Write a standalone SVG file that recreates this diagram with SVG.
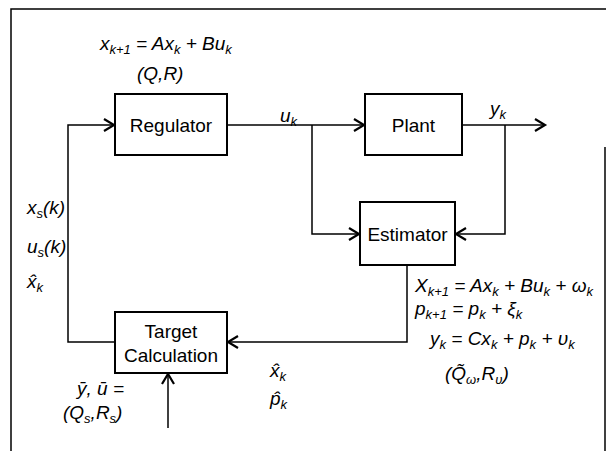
<svg xmlns="http://www.w3.org/2000/svg" width="606" height="451" viewBox="0 0 606 451">
<style>
.box{fill:#fff;stroke:#000;stroke-width:2}
.ln{fill:none;stroke:#000;stroke-width:1.5}
.lbl{font-family:"Liberation Sans",Arial,sans-serif;font-size:19px;fill:#000}
.m{font-family:"Liberation Sans",Arial,sans-serif;font-style:italic;font-size:19px;fill:#000}
.s{font-size:13px}
</style>
<defs>
<marker id="arr" markerUnits="userSpaceOnUse" markerWidth="14" markerHeight="16" refX="11" refY="7" orient="auto">
<path d="M1,1 L11,7 L1,13" fill="none" stroke="#000" stroke-width="2.2"/>
</marker>
</defs>
<rect width="606" height="451" fill="#fff"/>
<g id="frame" class="ln">
<path d="M11,451 V9 H606"/>
<path d="M605,147 V451"/>
</g>
<g id="connectors" class="ln">
<path d="M227,125 H364" marker-end="url(#arr)"/>
<path d="M312,125 V234 H359" marker-end="url(#arr)"/>
<path d="M462,125 H545" marker-end="url(#arr)"/>
<path d="M505,125 V234 H456" marker-end="url(#arr)"/>
<path d="M407,265 V342 H228" marker-end="url(#arr)"/>
<path d="M115,342 H68 V125 H114" marker-end="url(#arr)"/>
<path d="M168,428 V374" marker-end="url(#arr)"/>
</g>
<g id="regulator">
<rect class="box" x="115" y="94" width="112" height="61"/>
<text class="lbl" x="171" y="132" text-anchor="middle">Regulator</text>
</g>
<g id="plant">
<rect class="box" x="365" y="94" width="97" height="61"/>
<text class="lbl" x="413.5" y="132" text-anchor="middle">Plant</text>
</g>
<g id="estimator">
<rect class="box" x="360" y="202" width="95" height="63"/>
<text class="lbl" x="407.5" y="241" text-anchor="middle">Estimator</text>
</g>
<g id="target">
<rect class="box" x="115" y="312" width="112" height="61"/>
<text class="lbl" x="171" y="338" text-anchor="middle">Target</text>
<text class="lbl" x="171" y="362" text-anchor="middle">Calculation</text>
</g>
<g id="labels">
<text class="m" x="100" y="50">x<tspan class="s" dy="4">k+1</tspan><tspan dy="-4"> = Ax</tspan><tspan class="s" dy="4">k</tspan><tspan dy="-4"> + Bu</tspan><tspan class="s" dy="4">k</tspan></text>
<text class="m" x="137" y="80">(Q,R)</text>
<text class="m" x="280" y="122">u<tspan class="s" dy="4">k</tspan></text>
<text class="m" x="490" y="115">y<tspan class="s" dy="4">k</tspan></text>
<text class="m" x="27" y="214">x<tspan class="s" dy="4">s</tspan><tspan dy="-4">(k)</tspan></text>
<text class="m" x="27" y="253">u<tspan class="s" dy="4">s</tspan><tspan dy="-4">(k)</tspan></text>
<text class="m" x="27" y="288">x̂<tspan class="s" dy="4">k</tspan></text>
<text class="m" x="77" y="395">ȳ, ū =</text>
<text class="m" x="63" y="419">(Q<tspan class="s" dy="4">s</tspan><tspan dy="-4">,R</tspan><tspan class="s" dy="4">s</tspan><tspan dy="-4">)</tspan></text>
<text class="m" x="270" y="377">x̂<tspan class="s" dy="4">k</tspan></text>
<text class="m" x="270" y="405">p̂<tspan class="s" dy="4">k</tspan></text>
<text class="m" x="415" y="292">X<tspan class="s" dy="4">k+1</tspan><tspan dy="-4"> = Ax</tspan><tspan class="s" dy="4">k</tspan><tspan dy="-4"> + Bu</tspan><tspan class="s" dy="4">k</tspan><tspan dy="-4"> + ω</tspan><tspan class="s" dy="4">k</tspan></text>
<text class="m" x="415" y="315">p<tspan class="s" dy="4">k+1</tspan><tspan dy="-4"> = p</tspan><tspan class="s" dy="4">k</tspan><tspan dy="-4"> + ξ</tspan><tspan class="s" dy="4">k</tspan></text>
<text class="m" x="430" y="345">y<tspan class="s" dy="4">k</tspan><tspan dy="-4"> = Cx</tspan><tspan class="s" dy="4">k</tspan><tspan dy="-4"> + p</tspan><tspan class="s" dy="4">k</tspan><tspan dy="-4"> + υ</tspan><tspan class="s" dy="4">k</tspan></text>
<text class="m" x="445" y="380">(Q̃<tspan class="s" dy="4">ω</tspan><tspan dy="-4">,R</tspan><tspan class="s" dy="4">υ</tspan><tspan dy="-4">)</tspan></text>
</g>
</svg>
